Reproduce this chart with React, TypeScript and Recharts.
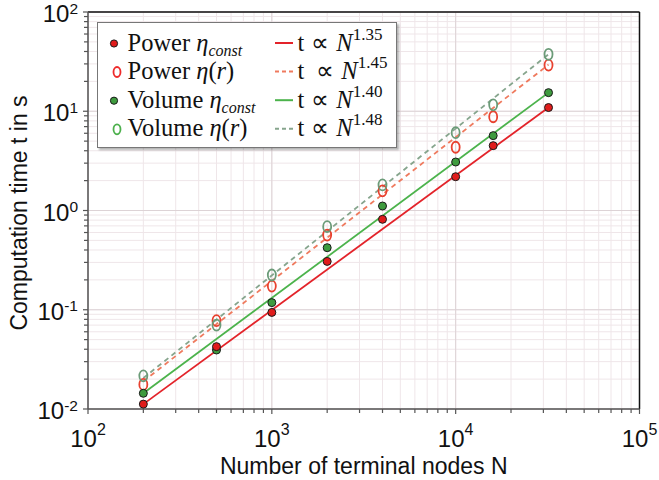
import {
  ComposedChart,
  Line,
  Scatter,
  XAxis,
  YAxis,
  CartesianGrid,
  ReferenceLine,
  Legend,
} from "recharts";

// Number of terminal nodes N
const nodes = [200, 500, 1000, 2000, 4000, 10000, 16000, 32000];

// Computation time t in s
const powerConst = [0.0112, 0.0425, 0.094, 0.307, 0.815, 2.19, 4.5, 10.9];
const powerRadius = [0.0177, 0.0776, 0.173, 0.566, 1.58, 4.34, 8.8, 29.2];
const volumeConst = [0.0144, 0.0393, 0.118, 0.422, 1.11, 3.08, 5.68, 15.4];
const volumeRadius = [0.0216, 0.07, 0.224, 0.687, 1.81, 6.08, 11.6, 37.5];

// Fitted power laws, endpoints of each straight line
const fitNodes = [200, 32000];
const fitPowerConst = [0.0112, 10.9];
const fitPowerRadius = [0.019, 29.5];
const fitVolumeConst = [0.0144, 15.4];
const fitVolumeRadius = [0.0205, 37.5];
const fitExponents = ["1.35", "1.45", "1.40", "1.48"];

// Axis ticks
const xMajor = [100, 1000, 10000, 100000];
const yMajor = [0.01, 0.1, 1, 10, 100];
const mantissas = [1, 2, 3, 4, 5, 6, 7, 8, 9];

const minorTicks = (majors: number[]) => {
  const out: number[] = [];
  majors.slice(0, -1).forEach((m) => mantissas.forEach((k) => out.push(+(m * k).toPrecision(3))));
  out.push(majors[majors.length - 1]);
  return out;
};
const xTicks = minorTicks(xMajor);
const yTicks = minorTicks(yMajor);

const RED = "#e3232a";
const RED_OPEN = "#e8412f";
const RED_DASH = "#ef7a5e";
const GREEN = "#3e9b3e";
const GREEN_LINE = "#4cb34c";
const GREEN_OPEN = "#6b9b78";
const GREEN_DASH = "#86a58d";

const SANS = "'Liberation Sans', Arial, Helvetica, sans-serif";
const SERIF = "'Liberation Serif', 'Times New Roman', serif";

const toPoints = (xs: number[], ys: number[]) => xs.map((N, i) => ({ N, t: ys[i] }));

const isMajor = (v: number) => Math.abs(Math.log10(v) - Math.round(Math.log10(v))) < 1e-6;

function XTick(props: any) {
  const { x, y, payload } = props;
  const v = payload.value;
  const major = isMajor(v);
  const exp = Math.round(Math.log10(v));
  return (
    <g>
      <line x1={x} x2={x} y1={y} y2={y + (major ? 5 : 4)} stroke="#555" strokeWidth={1.2} />
      {major && (
        <text x={x} y={y + 38} textAnchor="middle" fontFamily={SANS} fontSize={24} fill="#111">
          <tspan>10</tspan>
          <tspan dy={-12} fontSize={16}>
            {exp}
          </tspan>
        </text>
      )}
    </g>
  );
}

function YTick(props: any) {
  const { x, y, payload } = props;
  const v = payload.value;
  const major = isMajor(v);
  const exp = Math.round(Math.log10(v));
  return (
    <g>
      <line x1={x - (major ? 5 : 4)} x2={x} y1={y} y2={y} stroke="#555" strokeWidth={1.2} />
      {major && (
        <text x={x - 10} y={y + 10} textAnchor="end" fontFamily={SANS} fontSize={24} fill="#111">
          <tspan>10</tspan>
          <tspan dy={-8.5} fontSize={15.5}>
            {exp}
          </tspan>
        </text>
      )}
    </g>
  );
}

const filledDot = (fill: string) => (p: any) =>
  <circle cx={p.cx} cy={p.cy} r={4} fill={fill} stroke="#1a1a1a" strokeWidth={1} />;

const openDot = (stroke: string) => (p: any) =>
  <ellipse cx={p.cx} cy={p.cy} rx={4} ry={5.5} fill="none" stroke={stroke} strokeWidth={1.8} />;

function EtaConst() {
  return (
    <>
      <tspan fontStyle="italic">η</tspan>
      <tspan fontStyle="italic" fontSize={16} dy={5}>
        const
      </tspan>
    </>
  );
}

function EtaR() {
  return (
    <>
      <tspan fontStyle="italic">η</tspan>
      <tspan>(</tspan>
      <tspan fontStyle="italic">r</tspan>
      <tspan>)</tspan>
    </>
  );
}

function LegendBox() {
  const rows = [
    { name: "Power", eta: <EtaConst />, open: false, mark: "#e01b1b", line: RED, dash: false },
    { name: "Power", eta: <EtaR />, open: true, mark: "#ee2a2a", line: RED_DASH, dash: true },
    { name: "Volume", eta: <EtaConst />, open: false, mark: GREEN, line: GREEN_LINE, dash: false },
    { name: "Volume", eta: <EtaR />, open: true, mark: "#4cb04c", line: GREEN_DASH, dash: true },
  ];
  const baselines = [27.5, 56, 84.7, 113.3];
  return (
    <div
      style={{
        width: 300,
        height: 126,
        boxSizing: "border-box",
        border: "1.5px solid #777",
        background: "#fff",
        boxShadow: "2px 2px 2px rgba(0,0,0,0.3)",
      }}
    >
      <svg width={297} height={123} style={{ display: "block" }}>
        {rows.map((r, i) => {
          const b = baselines[i];
          return (
            <g key={i}>
              {r.open ? (
                <ellipse cx={19} cy={b - 7} rx={3.5} ry={5} fill="none" stroke={r.mark} strokeWidth={1.8} />
              ) : (
                <circle cx={16} cy={b - 7} r={3.6} fill={r.mark} stroke="#1a1a1a" strokeWidth={1} />
              )}
              <text x={29.5} y={b} fontFamily={SERIF} fontSize={24.5} fill="#111">
                <tspan>{r.name} </tspan>
                {r.eta}
              </text>
              <line
                x1={177}
                x2={195}
                y1={b - 7.5}
                y2={b - 7.5}
                stroke={r.line}
                strokeWidth={2}
                strokeDasharray={r.dash ? "4 3" : undefined}
              />
              <text x={199.5} y={b} fontFamily={SERIF} fontSize={24.5} fill="#111">
                <tspan>t</tspan>
                <tspan dx={i === 1 ? 12 : 7}>∝</tspan>
                <tspan dx={7} fontStyle="italic">
                  N
                </tspan>
                <tspan dy={-11} fontSize={17}>
                  {fitExponents[i]}
                </tspan>
              </text>
            </g>
          );
        })}
      </svg>
    </div>
  );
}

export default function App() {
  return (
    <div style={{ position: "absolute", left: 0, top: 0, width: 659, height: 480, background: "#fff" }}>
      <ComposedChart width={659} height={480} margin={{ top: 12, right: 19.5, left: 0, bottom: 0 }}>
        <CartesianGrid stroke="#efe6e9" strokeWidth={1} />
        {xMajor.map((v) => (
          <ReferenceLine key={"vx" + v} x={v} stroke="#ddd3d6" strokeWidth={1} />
        ))}
        {yMajor.map((v) => (
          <ReferenceLine key={"hy" + v} y={v} stroke="#ddd3d6" strokeWidth={1} />
        ))}
        <XAxis
          dataKey="N"
          type="number"
          scale="log"
          domain={[100, 100000]}
          allowDataOverflow
          ticks={xTicks}
          interval={0}
          tickSize={0}
          tickMargin={0}
          tickLine={false}
          tick={<XTick />}
          axisLine={{ stroke: "#555", strokeWidth: 1.5 }}
          height={71}
          label={() => (
            <text x={363.75} y={474} textAnchor="middle" fontFamily={SANS} fontSize={23} fill="#111">
              Number of terminal nodes N
            </text>
          )}
        />
        <YAxis
          dataKey="t"
          type="number"
          scale="log"
          domain={[0.01, 100]}
          allowDataOverflow
          ticks={yTicks}
          interval={0}
          tickSize={0}
          tickMargin={0}
          tickLine={false}
          tick={<YTick />}
          axisLine={{ stroke: "#555", strokeWidth: 1.5 }}
          width={88}
          label={() => (
            <text
              x={27}
              y={213}
              textAnchor="middle"
              transform="rotate(-90, 27, 213)"
              fontFamily={SANS}
              fontSize={23}
              fill="#111"
            >
              Computation time t in s
            </text>
          )}
        />
        <ReferenceLine y={100} stroke="#111" strokeWidth={1.5} />
        <ReferenceLine x={100000} stroke="#111" strokeWidth={1.5} />

        <Line data={toPoints(fitNodes, fitPowerConst)} dataKey="t" type="linear" stroke={RED} strokeWidth={1.8} dot={false} isAnimationActive={false} />
        <Line data={toPoints(fitNodes, fitPowerRadius)} dataKey="t" type="linear" stroke={RED_DASH} strokeWidth={1.8} strokeDasharray="5 4" dot={false} isAnimationActive={false} />
        <Line data={toPoints(fitNodes, fitVolumeConst)} dataKey="t" type="linear" stroke={GREEN_LINE} strokeWidth={1.8} dot={false} isAnimationActive={false} />
        <Line data={toPoints(fitNodes, fitVolumeRadius)} dataKey="t" type="linear" stroke={GREEN_DASH} strokeWidth={1.8} strokeDasharray="5 4" dot={false} isAnimationActive={false} />

        <Scatter data={toPoints(nodes, powerRadius)} shape={openDot(RED_OPEN)} isAnimationActive={false} />
        <Scatter data={toPoints(nodes, volumeRadius)} shape={openDot(GREEN_OPEN)} isAnimationActive={false} />
        <Scatter data={toPoints(nodes, volumeConst)} shape={filledDot(GREEN)} isAnimationActive={false} />
        <Scatter data={toPoints(nodes, powerConst)} shape={filledDot("#e01b1b")} isAnimationActive={false} />

        <Legend
          layout="horizontal"
          verticalAlign="middle"
          align="center"
          content={() => <LegendBox />}
          wrapperStyle={{ position: "absolute", left: 97, top: 22, width: 300, height: 126 }}
        />
      </ComposedChart>
    </div>
  );
}
